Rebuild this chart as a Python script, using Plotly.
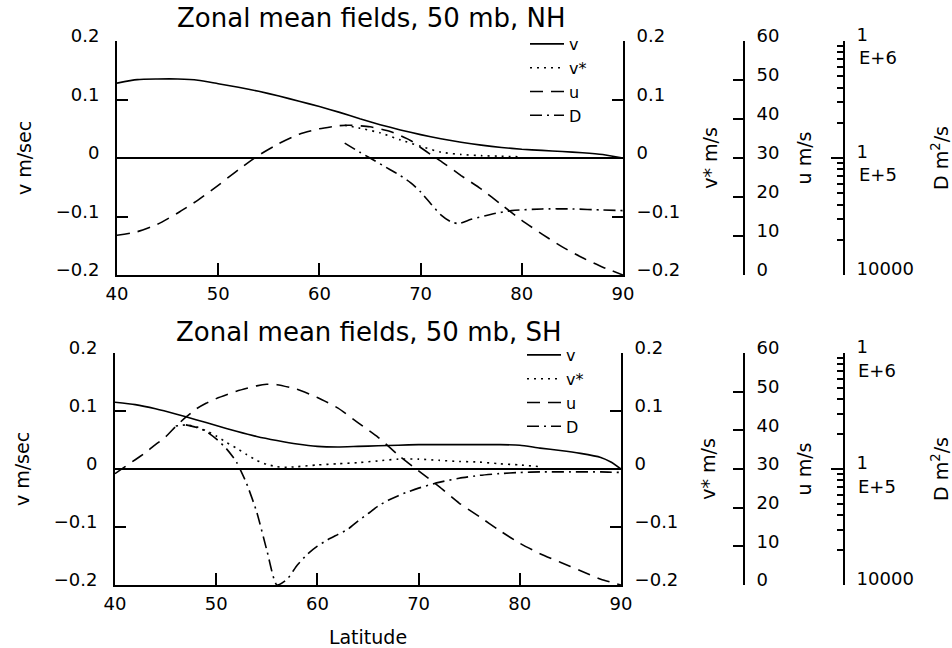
import math
import plotly.graph_objects as go

# ---------------- data ----------------
# NH panel
lat_nh_v = [40, 42, 44, 46, 48, 50, 52, 54, 56, 58, 60, 62, 64, 66, 68, 70, 72, 74, 76, 78, 80, 82, 84, 86, 88, 90]
v_nh = [0.128, 0.134, 0.135, 0.135, 0.133, 0.127, 0.121, 0.114, 0.106, 0.097, 0.088, 0.078, 0.067, 0.057,
        0.048, 0.040, 0.033, 0.027, 0.022, 0.018, 0.015, 0.013, 0.011, 0.009, 0.006, 0.0]
lat_nh_vs = [62.5, 64, 66, 68, 70, 72, 74, 76, 78, 80]
vs_nh = [0.056, 0.051, 0.043, 0.031, 0.020, 0.010, 0.006, 0.004, 0.003, 0.002]
lat_nh_u = [40, 42, 44, 46, 48, 50, 52, 54, 56, 58, 60, 62, 63, 65, 67, 69, 70, 71, 72, 74, 76, 78, 80, 82, 84, 86, 88, 90]
u_nh = [10.2, 11.1, 13.0, 15.9, 19.2, 23.0, 27.0, 30.7, 33.7, 36.1, 37.5, 38.3, 38.4, 38.0, 36.8, 34.5, 32.7,
        30.9, 29.2, 25.5, 22.0, 18.0, 14.0, 10.5, 7.2, 4.4, 2.0, 0.0]
lat_nh_d = [62.5, 64, 65, 67, 68, 69, 70, 71, 72, 73, 73.8, 75, 77, 79, 82, 85, 88, 90]
d_nh = [134000, 112000, 100000, 79400, 70800, 61700, 51300, 40700, 32700, 28500, 27500, 29900, 33100,
        35500, 36700, 36700, 35900, 35500]

# SH panel
lat_sh_v = [40, 42, 44, 46, 48, 50, 52, 54, 56, 58, 60, 62, 64, 66, 68, 70, 72, 74, 76, 78, 80, 82, 84, 86, 88, 89, 90]
v_sh = [0.115, 0.111, 0.104, 0.095, 0.085, 0.075, 0.065, 0.056, 0.049, 0.043, 0.039, 0.038, 0.039, 0.040,
        0.041, 0.042, 0.042, 0.042, 0.042, 0.042, 0.041, 0.036, 0.032, 0.027, 0.020, 0.012, 0.0]
lat_sh_vs = [46, 47, 48, 49, 50, 51, 52, 53, 54, 55, 56, 57, 58, 60, 62, 64, 66, 68, 70, 72, 74, 76, 78, 80, 82]
vs_sh = [0.074, 0.076, 0.073, 0.066, 0.057, 0.046, 0.036, 0.025, 0.015, 0.008, 0.004, 0.003, 0.004, 0.007,
         0.009, 0.011, 0.014, 0.017, 0.017, 0.015, 0.013, 0.012, 0.009, 0.007, 0.004]
lat_sh_u = [40, 41, 42, 43, 44, 45, 46, 47, 48, 49, 50, 52, 54, 55, 56, 58, 60, 62, 64, 66, 68, 70, 72, 74,
            76, 78, 80, 82, 84, 86, 88, 90]
u_sh = [28.8, 30.6, 32.4, 34.2, 36.3, 38.3, 41.0, 43.4, 45.5, 47.0, 48.2, 50.1, 51.5, 51.9, 51.8, 50.6, 48.5,
        45.8, 42.0, 38.2, 33.6, 29.5, 25.5, 21.2, 17.7, 14.1, 10.8, 8.1, 5.9, 3.7, 1.5, 0.0]
lat_sh_d = [47, 48, 49, 50, 51, 52, 53, 54, 55, 56, 57, 58, 59, 60, 61, 62, 63, 64, 65, 66, 67, 68, 69, 70,
            72, 74, 76, 78, 80, 82, 85, 88, 90]
d_sh = [240000, 229000, 211000, 182000, 150000, 115000, 75000, 42700, 20000, 10000, 11200, 14800, 18400,
        21600, 24500, 27200, 30200, 35500, 41200, 47900, 53700, 58900, 63800, 68400, 76700, 83200, 88100,
        91200, 93300, 94400, 94400, 94400, 93300]

lat_ticks = [40, 50, 60, 70, 80, 90]
v_ticks = [-0.2, -0.1, 0, 0.1, 0.2]
v_ticktext = ["\u22120.2", "\u22120.1", "0", "0.1", "0.2"]
u_ticks = [0, 10, 20, 30, 40, 50, 60]
d_ticks = [1e4, 1e5, 1e6]
d_ticktext = ["10000", "1", "1"]          # mantissa part of the labels
d_exp_vals = [1e5, 1e6]
d_exp_text = ["E+5", "E+6"]               # exponent part, written under the mantissa
d_minor = [2e4, 3e4, 4e4, 5e4, 6e4, 7e4, 8e4, 9e4, 2e5, 3e5, 4e5, 5e5, 6e5, 7e5, 8e5, 9e5]
titles = ["Zonal mean fields, 50 mb, NH", "Zonal mean fields, 50 mb, SH"]
names = ["v", "v*", "u", "D"]

# ---------------- styling ----------------
W, H = 952, 648
FONT = "DejaVu Sans"
BLACK = "black"
dashes = {"v": "solid", "v*": "2px,5px", "u": "13px,8px", "D": "12px,5px,2px,5px"}

fig = go.Figure()

panels = [
    dict(x="x", ys=["y", "y2", "y3", "y4"], legend="legend",
         data=[(lat_nh_v, v_nh), (lat_nh_vs, vs_nh), (lat_nh_u, u_nh), (lat_nh_d, d_nh)]),
    dict(x="x2", ys=["y5", "y6", "y7", "y8"], legend="legend2",
         data=[(lat_sh_v, v_sh), (lat_sh_vs, vs_sh), (lat_sh_u, u_sh), (lat_sh_d, d_sh)]),
]
for p in panels:
    for name, yax, (xs, ys) in zip(names, p["ys"], p["data"]):
        fig.add_trace(go.Scatter(
            x=xs, y=ys, name=name, mode="lines", xaxis=p["x"], yaxis=yax,
            legend=p["legend"],
            line=dict(color=BLACK, width=1.6, dash=dashes[name], shape="spline", smoothing=0.6),
        ))

tickfont = dict(family=FONT, size=18, color=BLACK)
titlefont = dict(family=FONT, size=19, color=BLACK)
legfont = dict(family=FONT, size=16, color=BLACK)

def xaxis(dom, anchor, title=None):
    d = dict(domain=dom, anchor=anchor, range=[40, 90], tickvals=lat_ticks, ticks="inside",
             ticklen=12, tickwidth=2, tickcolor=BLACK, showline=True, linewidth=2, linecolor=BLACK,
             showgrid=False, zeroline=False, tickfont=tickfont, ticklabelstandoff=1, automargin=False)
    if title:
        d["title"] = dict(text=title, font=titlefont, standoff=21)
    return d

def yaxes(dom, xref, yname, ynames):
    base = dict(showgrid=False, showline=True, linewidth=2, linecolor=BLACK, ticks="inside",
                tickwidth=2, tickcolor=BLACK, tickfont=tickfont, ticklabelshift=-5, automargin=False)
    ax = {}
    ax[ynames[0]] = dict(base, domain=dom, anchor=xref, range=[-0.2, 0.2], tickvals=v_ticks,
                         ticktext=v_ticktext, ticklen=11, zeroline=True, zerolinecolor=BLACK,
                         zerolinewidth=1.5, ticklabelstandoff=12,
                         title=dict(text="v m/sec", font=titlefont, standoff=19))
    ax[ynames[1]] = dict(base, overlaying=yname, anchor=xref, side="right", range=[-0.2, 0.2],
                         tickvals=v_ticks, ticktext=v_ticktext, ticklen=11, zeroline=False,
                         ticklabelstandoff=8,
                         title=dict(text="v* m/s", font=titlefont, standoff=24))
    ax[ynames[2]] = dict(base, overlaying=yname, anchor="free", position=744 / W, side="right",
                         range=[0, 60], tickvals=u_ticks, ticklen=10, zeroline=False,
                         ticklabelstandoff=8,
                         title=dict(text="u m/s", font=titlefont, standoff=18))
    ax[ynames[3]] = dict(base, overlaying=yname, anchor="free", position=844 / W, side="right",
                         type="log", range=[4, 6], tickvals=d_ticks, ticktext=d_ticktext, ticklen=12,
                         zeroline=False, ticklabelstandoff=8, ticklabelshift=-6,
                         minor=dict(tickvals=d_minor, ticks="inside", ticklen=6, tickwidth=1.5,
                                    tickcolor=BLACK, showgrid=False),
                         title=dict(text="D m<sup>2</sup>/s", font=titlefont, standoff=40))
    return ax

top_dom = [1 - 275 / H, 1 - 41 / H]
bot_dom = [1 - 585 / H, 1 - 353 / H]

annotations = [
    dict(text=titles[0], x=371 / W, y=1 - 18 / H, xref="paper", yref="paper", showarrow=False,
         xanchor="center", yanchor="middle", font=dict(family=FONT, size=26, color=BLACK)),
    dict(text=titles[1], x=369 / W, y=1 - 332 / H, xref="paper", yref="paper", showarrow=False,
         xanchor="center", yanchor="middle", font=dict(family=FONT, size=26, color=BLACK)),
]
# exponent parts of the D-axis labels, tied to the D axis values
for yref, xpos in (("y4", 857 / W), ("y8", 856 / W)):
    for val, txt in zip(d_exp_vals, d_exp_text):
        annotations.append(dict(text=txt, x=xpos, y=math.log10(val), xref="paper", yref=yref,
                                showarrow=False, xanchor="left", yanchor="middle", yshift=-17,
                                font=tickfont))

layout = dict(
    template="none",
    width=W, height=H, margin=dict(l=0, r=0, t=0, b=0, autoexpand=False),
    paper_bgcolor="white", plot_bgcolor="white",
    font=dict(family=FONT, color=BLACK),
    xaxis=xaxis([117 / W, 623 / W], "y"),
    xaxis2=xaxis([115 / W, 621 / W], "y5", title="Latitude"),
    legend=dict(x=525 / W, y=1 - 27 / H, xanchor="left", yanchor="top", bgcolor="rgba(0,0,0,0)",
                font=legfont, itemwidth=34, tracegroupgap=0, borderwidth=0),
    legend2=dict(x=522 / W, y=1 - 338 / H, xanchor="left", yanchor="top", bgcolor="rgba(0,0,0,0)",
                 font=legfont, itemwidth=34, tracegroupgap=0, borderwidth=0),
    showlegend=True,
    annotations=annotations,
)
layout.update(yaxes(top_dom, "x", "y", ["yaxis", "yaxis2", "yaxis3", "yaxis4"]))
layout.update(yaxes(bot_dom, "x2", "y5", ["yaxis5", "yaxis6", "yaxis7", "yaxis8"]))
fig.update_layout(**layout)

fig.write_html("out.html")
